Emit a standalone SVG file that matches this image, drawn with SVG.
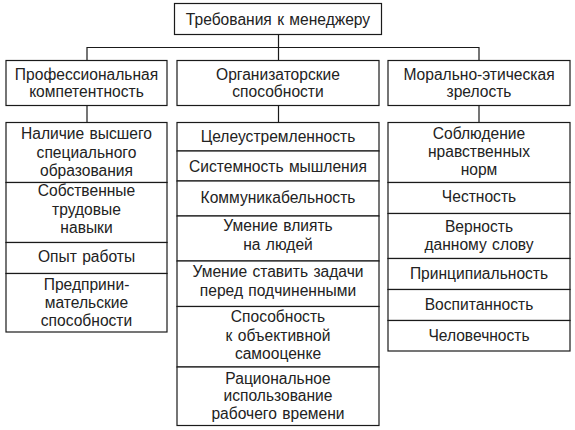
<svg xmlns="http://www.w3.org/2000/svg" width="575" height="430" viewBox="0 0 575 430">
<style>
rect{fill:#fff;stroke:#1a1a1a;stroke-width:1.2}
text{font-family:"Liberation Sans",Arial,sans-serif;font-size:15.6px;word-spacing:1px;fill:#222;text-anchor:middle}
#connectors line,#connectors polyline{stroke:#1a1a1a;stroke-width:1.2;fill:none}
</style>
<rect x="0" y="0" width="575" height="430" style="stroke:none"/>
<g id="connectors">
<polyline points="87,60.5 87,47.5 479,47.5 479,60.5"/>
<line x1="278.5" y1="34.5" x2="278.5" y2="60.5"/>
<line x1="87" y1="105.5" x2="87" y2="122.5"/>
<line x1="278.5" y1="105.5" x2="278.5" y2="122.5"/>
<line x1="479" y1="105.5" x2="479" y2="122.5"/>
</g>
<g id="root"><rect x="174.5" y="3.5" width="207" height="31"/><text x="278" y="25">Требования к менеджеру</text></g>
<g id="prof"><rect x="6" y="60.5" width="161" height="45"/><text x="86.5" y="79.5">Профессиональная</text><text x="86.5" y="96.5">компетентность</text></g>
<g id="org"><rect x="177" y="60.5" width="202" height="45"/><text x="278" y="79.5">Организаторские</text><text x="278" y="96.5">способности</text></g>
<g id="moral"><rect x="388" y="60.5" width="182" height="45"/><text x="479" y="79.5">Морально-этическая</text><text x="479" y="96.5">зрелость</text></g>

<g id="p1"><rect x="6" y="122.5" width="161" height="60"/><text x="86.5" y="139">Наличие высшего</text><text x="86.5" y="157.5">специального</text><text x="86.5" y="176">образования</text></g>
<g id="p2"><rect x="6" y="182.5" width="161" height="60"/><text x="86.5" y="196">Собственные</text><text x="86.5" y="214.5">трудовые</text><text x="86.5" y="233">навыки</text></g>
<g id="p3"><rect x="6" y="242.5" width="161" height="31"/><text x="86.5" y="262">Опыт работы</text></g>
<g id="p4"><rect x="6" y="273.5" width="161" height="58.5"/><text x="86.5" y="290">Предприни-</text><text x="86.5" y="308">мательские</text><text x="86.5" y="325.5">способности</text></g>

<g id="o1"><rect x="177" y="122.5" width="202" height="28.5"/><text x="278" y="142">Целеустремленность</text></g>
<g id="o2"><rect x="177" y="151" width="202" height="30"/><text x="278" y="172">Системность мышления</text></g>
<g id="o3"><rect x="177" y="181" width="202" height="35"/><text x="278" y="203">Коммуникабельность</text></g>
<g id="o4"><rect x="177" y="216" width="202" height="45"/><text x="278" y="231">Умение влиять</text><text x="278" y="249.5">на людей</text></g>
<g id="o5"><rect x="177" y="261" width="202" height="45.5"/><text x="278" y="277">Умение ставить задачи</text><text x="278" y="296">перед подчиненными</text></g>
<g id="o6"><rect x="177" y="306.5" width="202" height="60.5"/><text x="278" y="322">Способность</text><text x="278" y="340.5">к объективной</text><text x="278" y="359">самооценке</text></g>
<g id="o7"><rect x="177" y="367" width="202" height="58.5"/><text x="278" y="383.5">Рациональное</text><text x="278" y="401">использование</text><text x="278" y="418.5">рабочего времени</text></g>

<g id="m1"><rect x="388" y="122.5" width="182" height="60"/><text x="479" y="138.5">Соблюдение</text><text x="479" y="157">нравственных</text><text x="479" y="175">норм</text></g>
<g id="m2"><rect x="388" y="182.5" width="182" height="31"/><text x="479" y="202">Честность</text></g>
<g id="m3"><rect x="388" y="213.5" width="182" height="45"/><text x="479" y="232">Верность</text><text x="479" y="250">данному слову</text></g>
<g id="m4"><rect x="388" y="258.5" width="182" height="31"/><text x="479" y="278.5">Принципиальность</text></g>
<g id="m5"><rect x="388" y="289.5" width="182" height="31"/><text x="479" y="310">Воспитанность</text></g>
<g id="m6"><rect x="388" y="320.5" width="182" height="30.5"/><text x="479" y="341">Человечность</text></g>
</svg>
